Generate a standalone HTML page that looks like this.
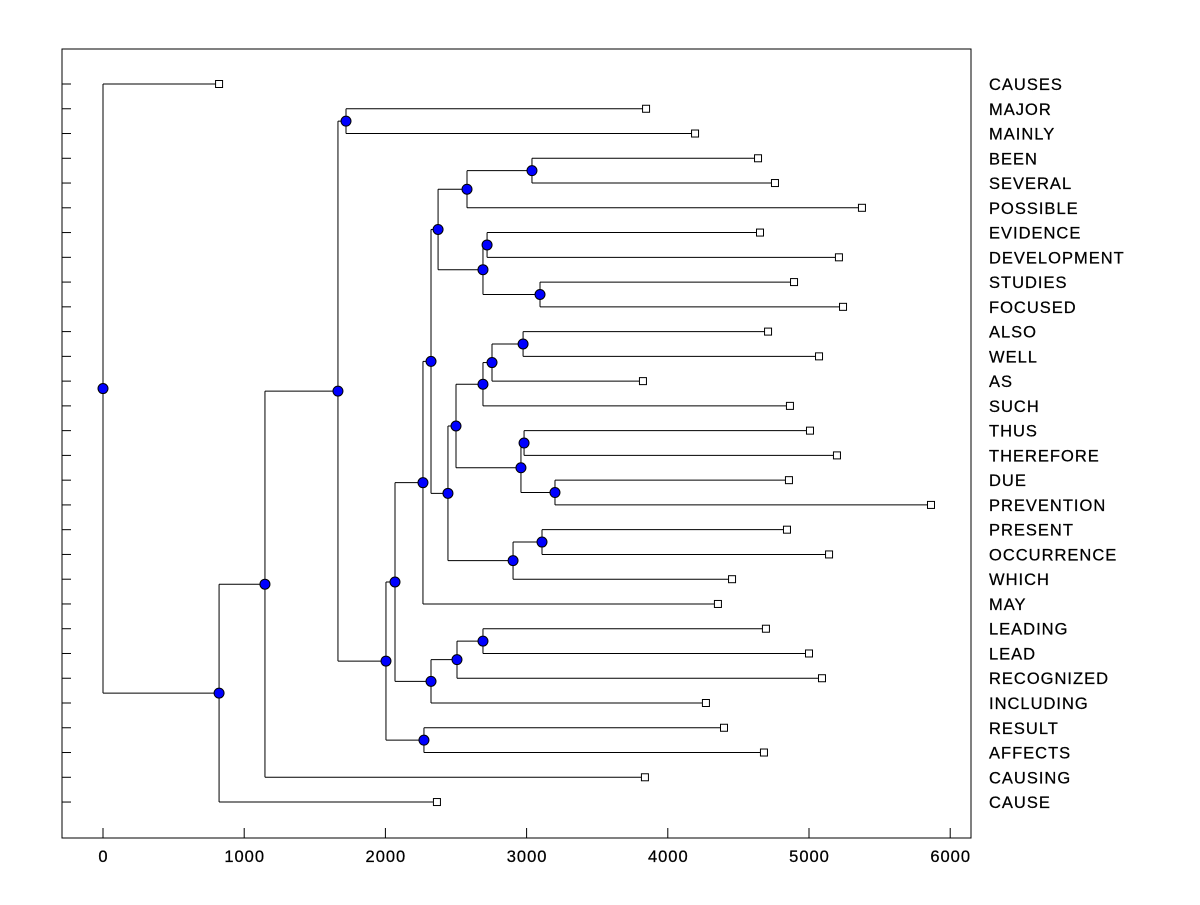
<!DOCTYPE html>
<html><head><meta charset="utf-8"><style>
body{margin:0;background:#fff}
svg text{font-family:"Liberation Sans",Arial,sans-serif;font-size:16.5px;fill:#000;letter-spacing:1px;stroke:#000;stroke-width:0.25px}
</style></head><body>
<svg id="chart" width="1200" height="900">
<rect x="62" y="49" width="909" height="789" fill="none" stroke="#000" stroke-width="1"/>
<g id="g"></g>
</svg>
<script>
const leafNames=["CAUSES","MAJOR","MAINLY","BEEN","SEVERAL","POSSIBLE","EVIDENCE","DEVELOPMENT","STUDIES","FOCUSED","ALSO","WELL","AS","SUCH","THUS","THEREFORE","DUE","PREVENTION","PRESENT","OCCURRENCE","WHICH","MAY","LEADING","LEAD","RECOGNIZED","INCLUDING","RESULT","AFFECTS","CAUSING","CAUSE"];
const leafValues=[822,3846,4193,4639,4759,5375,4653,5212,4894,5241,4710,5071,3824,4865,5007,5198,4858,5864,4844,5142,4455,4355,4695,5000,5092,4270,4398,4681,3838,2365];
const mergeLeft=[-2,-4,2,-7,-9,4,3,-11,8,9,-15,-17,11,10,-19,15,14,7,18,-23,20,21,19,-27,23,1,26,27,-1];
const mergeRight=[-3,-5,-6,-8,-10,5,6,-12,-13,-14,-16,-18,12,13,-20,-21,16,17,-22,-24,-25,-26,22,-28,24,25,-29,-30,28];
const mergeHeight=[1721,3038,2578,2720,3095,2691,2373,2975,2755,2691,2982,3201,2960,2500,3109,2904,2443,2323,2266,2691,2507,2323,2068,2273,2004,1664,1147,822,0];
const xTicks=[0,1000,2000,3000,4000,5000,6000];

const NS="http://www.w3.org/2000/svg";
const g=document.getElementById('g');
const X=v=>103+v*0.1412;
const Y=i=>84+i*24.76;
function mk(t,a){const e=document.createElementNS(NS,t);for(const k in a)e.setAttribute(k,a[k]);g.appendChild(e);return e;}
leafNames.forEach((n,i)=>{
  const t=mk('line',{x1:62,x2:71,y1:Y(i),y2:Y(i),stroke:'#000'});
  
  
  const l=mk('text',{x:989,y:Y(i)+6});l.textContent=n;
  
  
});
xTicks.forEach(v=>{
  const t=mk('line',{x1:X(v),x2:X(v),y1:838,y2:828,stroke:'#000'});
  
  
  const l=mk('text',{x:X(v)+0.5,y:862,'text-anchor':'middle'});l.textContent=v;
  
  
});
const nodePos=[];
function pos(c){return c<0?{x:X(leafValues[-c-1]),y:Y(-c-1)}:nodePos[c-1];}
mergeHeight.forEach((h,k)=>{
  const a=pos(mergeLeft[k]),b=pos(mergeRight[k]);const px=X(h);
  nodePos.push({x:px,y:(a.y+b.y)/2});
  [a,b].forEach(c=>{
    const p=mk('polyline',{points:`${c.x},${c.y} ${px},${c.y}`,fill:'none',stroke:'#000','stroke-width':1});
    
    
  });
  const v=mk('line',{x1:px,x2:px,y1:a.y,y2:b.y,stroke:'#000'});
  
  
});
leafValues.forEach((v,i)=>{
  const r=mk('rect',{x:X(v)-3.5,y:Y(i)-3.5,width:7,height:7,fill:'#fff',stroke:'#000'});
  
  
});
nodePos.forEach(p=>{
  const c=mk('circle',{cx:p.x,cy:p.y,r:5,fill:'#0000ff',stroke:'#000','stroke-width':1});
  
  
});
</script>
</body></html>
